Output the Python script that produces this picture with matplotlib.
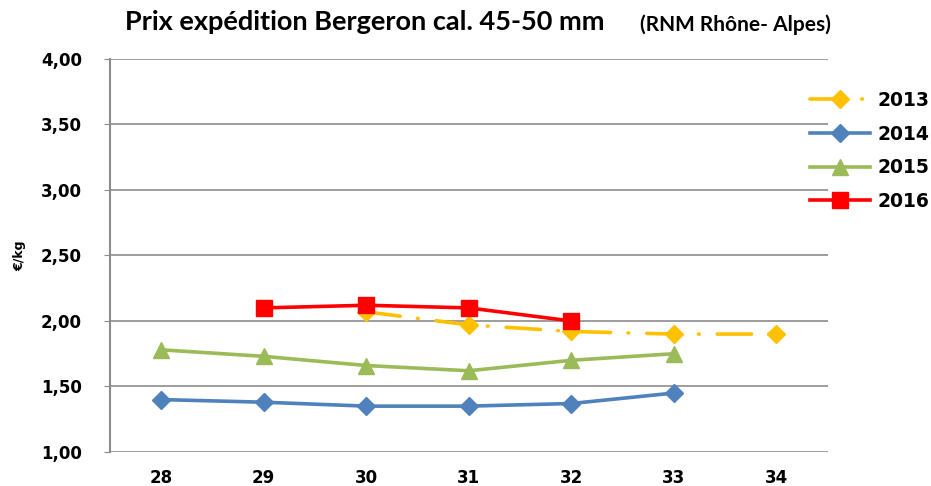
import matplotlib
matplotlib.use("Agg")
import matplotlib.pyplot as plt
from matplotlib.ticker import FixedLocator, FuncFormatter

plt.rcParams["font.family"] = ["DejaVu Sans"]

weeks = [28, 29, 30, 31, 32, 33, 34]

weeks_2013 = [30, 31, 32, 33, 34]
prices_2013 = [2.07, 1.97, 1.92, 1.90, 1.90]

weeks_2014 = [28, 29, 30, 31, 32, 33]
prices_2014 = [1.40, 1.38, 1.35, 1.35, 1.37, 1.45]

weeks_2015 = [28, 29, 30, 31, 32, 33]
prices_2015 = [1.78, 1.73, 1.66, 1.62, 1.70, 1.75]

weeks_2016 = [29, 30, 31, 32]
prices_2016 = [2.10, 2.12, 2.10, 2.00]

y_ticks = [1.0, 1.5, 2.0, 2.5, 3.0, 3.5, 4.0]

fig = plt.figure(figsize=(9.31, 4.86), dpi=100)
ax = fig.add_axes([0.118, 0.070, 0.771, 0.8086])

ax.plot(weeks_2013, prices_2013, color="#FFC000", lw=2.6, marker="D", ms=9,
        dashes=(9.5, 4.8, 0.2, 5), dash_capstyle="round", label="2013", zorder=3)
ax.plot(weeks_2014, prices_2014, color="#4F81BD", lw=2.6, marker="D", ms=9,
        label="2014", zorder=3)
ax.plot(weeks_2015, prices_2015, color="#9BBB59", lw=2.6, marker="^", ms=12,
        label="2015", zorder=3)
ax.plot(weeks_2016, prices_2016, color="#FF0000", lw=2.6, marker="s", ms=12,
        label="2016", zorder=4)

ax.set_xlim(27.5, 34.5)
ax.set_ylim(1.0, 4.0)
ax.xaxis.set_major_locator(FixedLocator(weeks))
ax.yaxis.set_major_locator(FixedLocator(y_ticks))
ax.yaxis.set_major_formatter(FuncFormatter(lambda v, p: f"{v:.2f}".replace(".", ",")))
ax.grid(axis="y", color="#8C8C8C", lw=1.2)
ax.set_axisbelow(True)
for s in ["top", "right", "bottom"]:
    ax.spines[s].set_visible(False)
ax.spines["left"].set_color("#8C8C8C")
ax.spines["left"].set_linewidth(1.5)
ax.tick_params(axis="y", length=4, color="#8C8C8C", pad=16, labelsize=12)
ax.tick_params(axis="x", length=0, pad=12, labelsize=12)
for lab in ax.get_xticklabels() + ax.get_yticklabels():
    lab.set_fontweight("bold")

ax.set_ylabel("€/kg", fontsize=9, fontweight="bold", labelpad=11)

leg = fig.legend(handles=ax.get_lines(), loc="upper left",
                 bbox_to_anchor=(810 / 931, 1 - 91 / 486), frameon=False,
                 prop={"weight": "bold", "size": 13.5}, handlelength=3.2,
                 labelspacing=0.78, handletextpad=0.4, borderpad=0,
                 borderaxespad=0)

fig.text(0.134, 0.955, "Prix expédition Bergeron cal. 45-50 mm", fontsize=19.5,
         fontweight="bold", family="Lato", va="center", ha="left")
fig.text(0.687, 0.950, "(RNM Rhône- Alpes)", fontsize=15,
         fontweight="bold", family="Lato", va="center", ha="left")

fig.savefig("out.png", dpi=100)
